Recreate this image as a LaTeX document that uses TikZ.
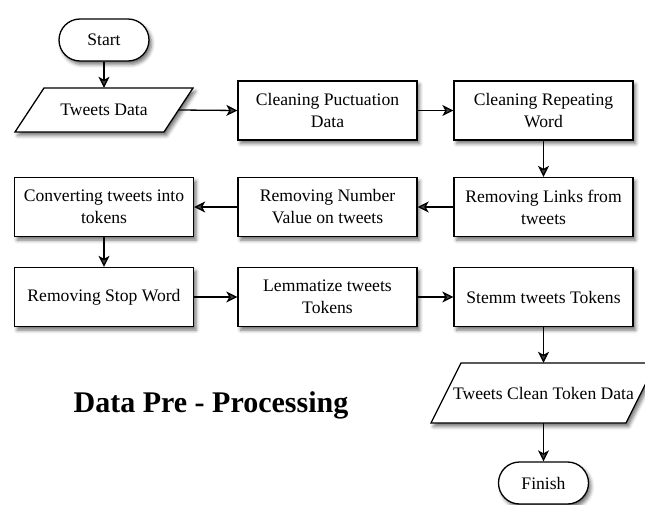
\documentclass[tikz,border=0pt]{standalone}
\usepackage{fontspec}
\setmainfont{Liberation Serif}
\usetikzlibrary{arrows.meta,calc,shadows.blur}
\begin{document}
\begin{tikzpicture}[x=1pt,y=-1pt,
  every node/.style={font=\fontsize{17.6}{22}\selectfont, align=center, inner sep=0pt},
  shad/.style={blur shadow={shadow xshift=2.5pt, shadow yshift=-3.5pt, shadow blur radius=3.5pt, shadow opacity=55}},
  procbox/.style={draw, line width=1.3pt, fill=white, minimum width=179pt, minimum height=59pt, shad},
  term/.style={draw, line width=1.3pt, fill=white, minimum width=90pt, minimum height=42pt, rounded corners=21pt, shad},
  paral/.style={draw, line width=1.3pt, fill=white, shad},
  flow/.style={-{Stealth[length=11pt,width=11pt,inset=3pt]}, line width=1.3pt},
  titlefont/.style={font=\bfseries\fontsize{30}{36}\selectfont, anchor=base}
]
\useasboundingbox (0,0) rectangle (645,505);

% terminals and process boxes
\node[term] (start) at (104,40) {Start};
\path[paral] (44,88) -- (193,88) -- (164,132) -- (15,132) -- cycle;
\node[minimum width=149pt, minimum height=44pt] (tdata) at (104,110) {Tweets Data};

\node[procbox] (clpunct) at (327.5,110.5) {Cleaning Puctuation\\Data};
\node[procbox] (clrep) at (543.5,110.5) {Cleaning Repeating\\Word};
\node[procbox] (rmlinks) at (543.5,207) {Removing Links from\\tweets};
\node[procbox] (rmnum) at (327.5,207) {Removing Number\\Value on tweets};
\node[procbox] (convert) at (104,207) {Converting tweets into\\tokens};
\node[procbox] (rmstop) at (104,297) {Removing Stop Word};
\node[procbox] (lemma) at (327.5,297) {Lemmatize tweets\\Tokens};
\node[procbox] (stemm) at (543.5,297) {Stemm tweets Tokens};

\path[paral] (461,363) -- (656,363) -- (626,423) -- (431,423) -- cycle;
\node[minimum width=195pt, minimum height=60pt] (tclean) at (543.5,393) {Tweets Clean Token Data};

\node[term] (finish) at (543.5,483) {Finish};

\node[titlefont] (title) at (211,412) {Data Pre - Processing};

% connectors
\draw[flow] (start) -- (tdata);
\draw[flow] (tdata.east) -- (clpunct.west);
\draw[flow] (clpunct) -- (clrep);
\draw[flow] (clrep) -- (rmlinks);
\draw[flow] (rmlinks) -- (rmnum);
\draw[flow] (rmnum) -- (convert);
\draw[flow] (convert) -- (rmstop);
\draw[flow] (rmstop) -- (lemma);
\draw[flow] (lemma) -- (stemm);
\draw[flow] (stemm) -- (tclean);
\draw[flow] (tclean) -- (finish);
\end{tikzpicture}
\end{document}
